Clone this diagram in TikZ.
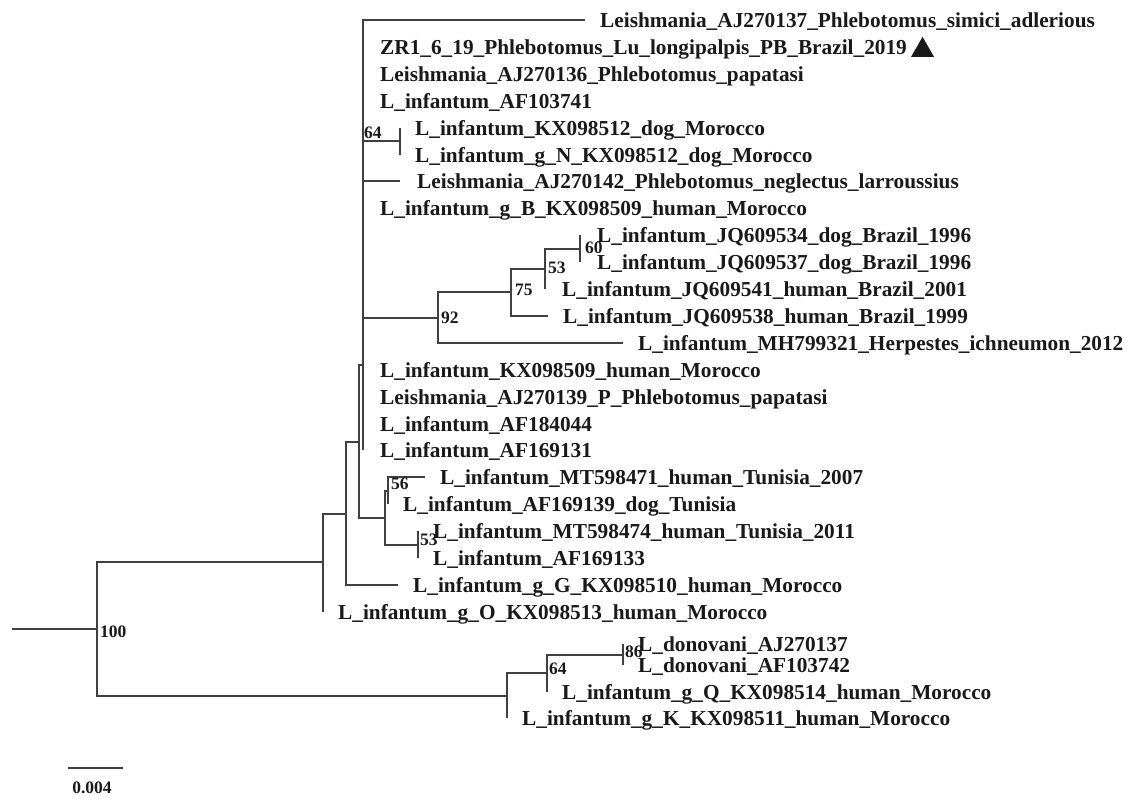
\documentclass[tikz,border=0pt]{standalone}
\usepackage{fontspec}
\setmainfont{Liberation Serif}
\begin{document}
\begin{tikzpicture}[x=1pt,y=-1pt,
  br/.style={draw=black!75, line width=2pt},
  leafbase/.style={anchor=base west, inner sep=0pt, font=\bfseries\fontsize{21.3}{24}\selectfont, text=black!90, yshift=-7.5pt},
  leaf/.style={leafbase, xshift=15pt},
  leafz/.style={leafbase, xshift=17pt},
  boot/.style={anchor=west, inner sep=0pt, font=\bfseries\fontsize{17.5}{20}\selectfont, text=black!90}]
\useasboundingbox (0,0) rectangle (1132,798);
% internal nodes
\coordinate (R0) at (12,629);
\coordinate (R) at (97,629);
\coordinate (U) at (323,562);
\coordinate (D) at (507,695.5);
\coordinate (N345) at (346,513.5);
\coordinate (N359) at (359,441.5);
\coordinate (P) at (363,365);
\coordinate (T) at (385,517.5);
\coordinate (N64) at (400,141);
\coordinate (N92) at (438,317.5);
\coordinate (N75) at (511,292);
\coordinate (N53) at (545,268.8);
\coordinate (N60) at (580,248.6);
\coordinate (N56) at (388,490.7);
\coordinate (N53b) at (418,544.5);
\coordinate (N64b) at (547,673);
\coordinate (N86) at (623,654.5);
% leaf tips
\coordinate (t1) at (585,20);
\coordinate (t2) at (363,46.9);
\coordinate (t3) at (363,73.8);
\coordinate (t4) at (363,100.7);
\coordinate (t5) at (400,127.6);
\coordinate (t6) at (400,154.5);
\coordinate (t7) at (400,181.4);
\coordinate (t8) at (363,208.3);
\coordinate (t9) at (580,235.2);
\coordinate (t10) at (580,262.1);
\coordinate (t11) at (545,289);
\coordinate (t12) at (548,315.9);
\coordinate (t13) at (623,342.8);
\coordinate (t14) at (363,369.7);
\coordinate (t15) at (363,396.6);
\coordinate (t16) at (363,423.5);
\coordinate (t17) at (363,450.4);
\coordinate (t18) at (425,477.3);
\coordinate (t19) at (388,504.2);
\coordinate (t20) at (418,531.1);
\coordinate (t21) at (418,558);
\coordinate (t22) at (398,584.9);
\coordinate (t23) at (323,611.8);
\coordinate (t24) at (623,644);
\coordinate (t25) at (623,665);
\coordinate (t26) at (547,692);
\coordinate (t27) at (507,718);
% branches
\draw[br] (R0) -- (R);
\draw[br] (R) |- (U);
\draw[br] (R) |- (D);
\draw[br] (U) |- (N345);
\draw[br] (U) |- (t23);
\draw[br] (N345) |- (N359);
\draw[br] (N345) |- (t22);
\draw[br] (N359) |- (P);
\draw[br] (N359) |- (T);
\foreach \c in {t1,t2,t3,t4,N64,t7,t8,N92,t14,t15,t16,t17} {\draw[br] (P) |- (\c);}
\draw[br] (N64) |- (t5);
\draw[br] (N64) |- (t6);
\draw[br] (N92) |- (N75);
\draw[br] (N92) |- (t13);
\draw[br] (N75) |- (N53);
\draw[br] (N75) |- (t12);
\draw[br] (N53) |- (N60);
\draw[br] (N53) |- (t11);
\draw[br] (N60) |- (t9);
\draw[br] (N60) |- (t10);
\draw[br] (T) |- (N56);
\draw[br] (T) |- (N53b);
\draw[br] (N56) |- (t18);
\draw[br] (N56) |- (t19);
\draw[br] (N53b) |- (t20);
\draw[br] (N53b) |- (t21);
\draw[br] (D) |- (N64b);
\draw[br] (D) |- (t27);
\draw[br] (N64b) |- (N86);
\draw[br] (N64b) |- (t26);
\draw[br] (N86) |- (t24);
\draw[br] (N86) |- (t25);
% leaf labels
\node[leaf] (l1) at (t1) {Leishmania\_AJ270137\_Phlebotomus\_simici\_adlerious};
\node[leafz] (l2) at (t2) {ZR1\_6\_19\_Phlebotomus\_Lu\_longipalpis\_PB\_Brazil\_2019};
\node[leafz] (l3) at (t3) {Leishmania\_AJ270136\_Phlebotomus\_papatasi};
\node[leafz] (l4) at (t4) {L\_infantum\_AF103741};
\node[leaf] (l5) at (t5) {L\_infantum\_KX098512\_dog\_Morocco};
\node[leaf] (l6) at (t6) {L\_infantum\_g\_N\_KX098512\_dog\_Morocco};
\node[leafz] (l7) at (t7) {Leishmania\_AJ270142\_Phlebotomus\_neglectus\_larroussius};
\node[leafz] (l8) at (t8) {L\_infantum\_g\_B\_KX098509\_human\_Morocco};
\node[leafz] (l9) at (t9) {L\_infantum\_JQ609534\_dog\_Brazil\_1996};
\node[leafz] (l10) at (t10) {L\_infantum\_JQ609537\_dog\_Brazil\_1996};
\node[leafz] (l11) at (t11) {L\_infantum\_JQ609541\_human\_Brazil\_2001};
\node[leaf] (l12) at (t12) {L\_infantum\_JQ609538\_human\_Brazil\_1999};
\node[leaf] (l13) at (t13) {L\_infantum\_MH799321\_Herpestes\_ichneumon\_2012};
\node[leafz] (l14) at (t14) {L\_infantum\_KX098509\_human\_Morocco};
\node[leafz] (l15) at (t15) {Leishmania\_AJ270139\_P\_Phlebotomus\_papatasi};
\node[leafz] (l16) at (t16) {L\_infantum\_AF184044};
\node[leafz] (l17) at (t17) {L\_infantum\_AF169131};
\node[leaf] (l18) at (t18) {L\_infantum\_MT598471\_human\_Tunisia\_2007};
\node[leaf] (l19) at (t19) {L\_infantum\_AF169139\_dog\_Tunisia};
\node[leaf] (l20) at (t20) {L\_infantum\_MT598474\_human\_Tunisia\_2011};
\node[leaf] (l21) at (t21) {L\_infantum\_AF169133};
\node[leaf] (l22) at (t22) {L\_infantum\_g\_G\_KX098510\_human\_Morocco};
\node[leaf] (l23) at (t23) {L\_infantum\_g\_O\_KX098513\_human\_Morocco};
\node[leaf] (l24) at (t24) {L\_donovani\_AJ270137};
\node[leaf] (l25) at (t25) {L\_donovani\_AF103742};
\node[leaf] (l26) at (t26) {L\_infantum\_g\_Q\_KX098514\_human\_Morocco};
\node[leaf] (l27) at (t27) {L\_infantum\_g\_K\_KX098511\_human\_Morocco};
% marker
\fill[black!90] ([xshift=4pt,yshift=-2.5pt]l2.base east) -- ++(23,0) -- ++(-11.5,-20) -- cycle;
% bootstrap values
\node[boot] (b100) at (100,632) {100};
\node[boot] (b92) at (441,318) {92};
\node[boot] (b75) at (515,290) {75};
\node[boot] (b53) at (548,268) {53};
\node[boot] (b60) at (585,248) {60};
\node[boot] (b64) at (364,133) {64};
\node[boot] (b56) at (391,484) {56};
\node[boot] (b53b) at (420,540) {53};
\node[boot] (b64b) at (549,669) {64};
\node[boot] (b86) at (625,652) {86};
% scale bar
\coordinate (s1) at (68,768);
\coordinate (s2) at (123,768);
\draw[br] (s1) -- (s2);
\node[boot, anchor=center] (sl) at (92,788) {0.004};
\end{tikzpicture}
\end{document}
